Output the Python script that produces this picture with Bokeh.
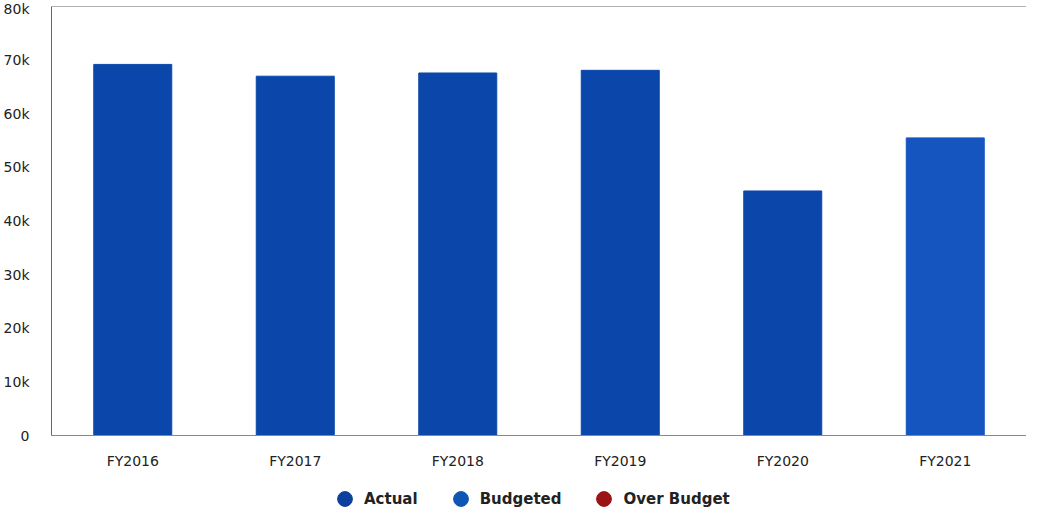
from bokeh.plotting import figure
from bokeh.layouts import column
from bokeh.models import ColumnDataSource, Legend, LegendItem, NumeralTickFormatter, FixedTicker, Span
from bokeh.embed import file_html
from bokeh.resources import INLINE

years = ["FY2016", "FY2017", "FY2018", "FY2019", "FY2020", "FY2021"]
values = [69200, 67000, 67600, 68100, 45600, 55500]
kinds = ["Actual", "Actual", "Actual", "Actual", "Actual", "Budgeted"]
y_ticks = [0, 10000, 20000, 30000, 40000, 50000, 60000, 70000, 80000]
legend_names = ["Actual", "Budgeted", "Over Budget"]

col = {"Actual": "#0B47AB", "Budgeted": "#1555C0", "Over Budget": "#9B1217"}
legend_cols = {"Actual": "#0C409F", "Budgeted": "#0F56B4", "Over Budget": "#9B1217"}

src = ColumnDataSource(dict(x=years, top=values, color=[col[k] for k in kinds]))

p = figure(x_range=years, y_range=(0, 80000), width=1026, height=471,
           output_backend="svg", toolbar_location=None,
           min_border_left=49, min_border_right=0, min_border_top=6, min_border_bottom=32)
p.vbar(x="x", top="top", width=0.48, color="color", source=src)

p.xgrid.visible = False
p.ygrid.visible = False
p.outline_line_color = None
p.add_layout(Span(location=80000, dimension="width", line_color="#666666", line_width=1))

p.yaxis.ticker = FixedTicker(ticks=y_ticks)
p.yaxis.formatter = NumeralTickFormatter(format="0a")
p.yaxis.axis_line_color = "#666666"
p.yaxis.major_tick_line_color = None
p.yaxis.minor_tick_line_color = None
p.yaxis.major_label_text_font = "DejaVu Sans"
p.yaxis.major_label_text_font_size = "14px"
p.yaxis.major_label_text_color = "#222222"
p.yaxis.major_label_standoff = 16

p.xaxis.axis_line_color = "#888888"
p.xaxis.major_tick_line_color = None
p.xaxis.minor_tick_line_color = None
p.xaxis.major_label_text_font = "DejaVu Sans"
p.xaxis.major_label_text_font_size = "14px"
p.xaxis.major_label_text_color = "#222222"
p.xaxis.major_label_standoff = 11

# legend in its own strip below the chart
lg = figure(width=1026, height=40, x_range=(0, 1), y_range=(0, 1),
            x_axis_location=None, y_axis_location=None,
            output_backend="svg", toolbar_location=None,
            min_border_left=0, min_border_right=0, min_border_top=0, min_border_bottom=0)
lg.grid.visible = False
lg.outline_line_color = None

items = []
for name in legend_names:
    r = lg.scatter(x=[-10], y=[-10], marker="circle", size=15, color=legend_cols[name])
    items.append(LegendItem(label=name, renderers=[r]))

legend = Legend(items=items, orientation="horizontal", location=(275, -6),
                label_text_font="DejaVu Sans", label_text_font_style="bold",
                label_text_font_size="15px", label_text_color="#222222",
                border_line_color=None, background_fill_alpha=0,
                spacing=24, glyph_width=37, glyph_height=37,
                label_standoff=1, margin=0, padding=0)
lg.add_layout(legend, "center")

layout = column(p, lg, spacing=0)
open("out.html", "w").write(file_html(layout, INLINE))
